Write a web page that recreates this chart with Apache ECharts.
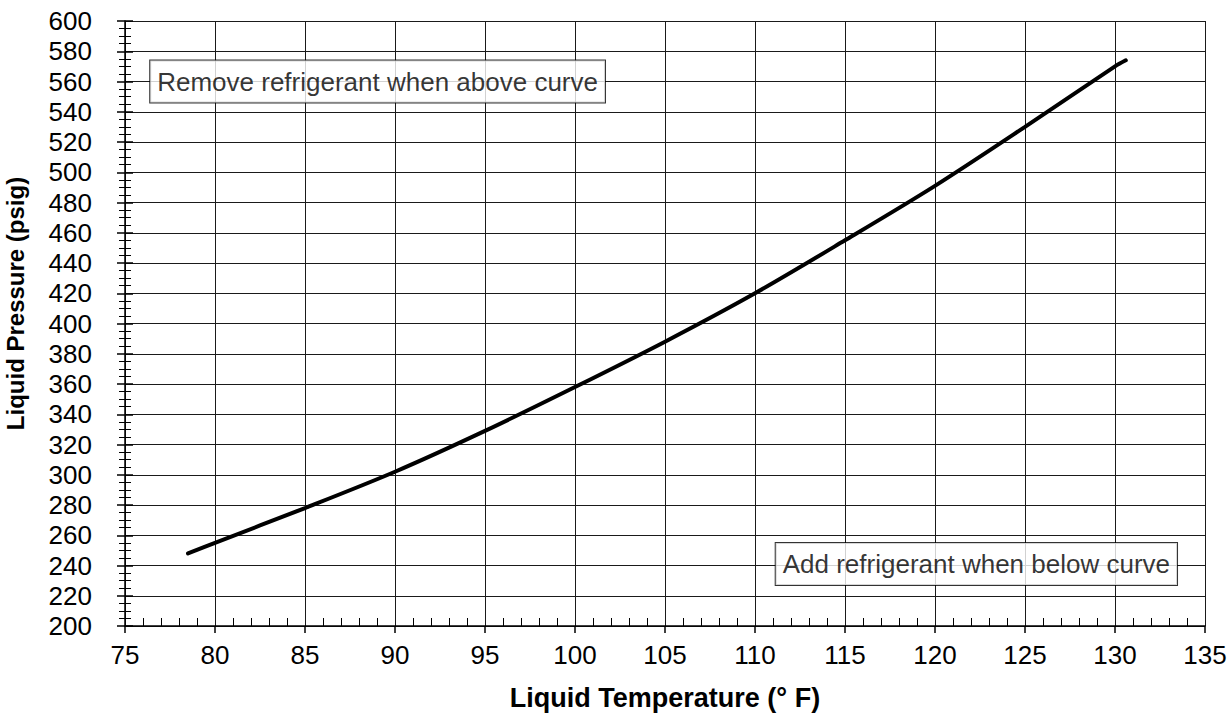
<!DOCTYPE html>
<html><head><meta charset="utf-8">
<script src="https://cdn.jsdelivr.net/npm/echarts@6/dist/echarts.min.js"></script>
<style>html,body{margin:0;padding:0;background:#fff}#c{width:1228px;height:724px}</style>
</head><body><div id="c"></div>
<script>
const temperatures = [78.5, 80, 85, 90, 95, 100, 105, 110, 115, 120, 125, 130, 130.6];
const pressures    = [248, 255, 278, 302, 329, 358, 388, 420, 455, 491, 530, 570, 574];
const xTickLabels  = [75, 80, 85, 90, 95, 100, 105, 110, 115, 120, 125, 130, 135];
const yTickLabels  = [200, 220, 240, 260, 280, 300, 320, 340, 360, 380, 400, 420, 440, 460, 480, 500, 520, 540, 560, 580, 600];
const noteTexts    = ['Remove refrigerant when above curve', 'Add refrigerant when below curve'];
const noteX        = [76.4, 111.15];
const noteY        = [560, 241];

const FONT = 'Liberation Sans, Arial, Helvetica, sans-serif';
const xMin = xTickLabels[0], xMax = xTickLabels[xTickLabels.length - 1], xStep = xTickLabels[1] - xTickLabels[0];
const yMin = yTickLabels[0], yMax = yTickLabels[yTickLabels.length - 1], yStep = yTickLabels[1] - yTickLabels[0];
const GRID = '#1a1a1a';

const chart = echarts.init(document.getElementById('c'), null, {renderer: 'svg'});
chart.setOption({
  animation: false,
  backgroundColor: '#fff',
  grid: {left: 125, right: 23, top: 21, bottom: 98, containLabel: false, outerBoundsMode: 'none'},
  xAxis: [{
    type: 'value', position: 'bottom', min: xMin, max: xMax, interval: xStep,
    name: 'Liquid Temperature (° F)', nameLocation: 'middle', nameGap: 58,
    nameTextStyle: {fontFamily: FONT, fontSize: 27, fontWeight: 'bold', color: '#000'},
    axisLine: {show: true, onZero: false, lineStyle: {color: '#000', width: 1.5}},
    axisTick: {show: true, inside: false, length: 7, lineStyle: {color: '#000', width: 1.5}},
    minorTick: {show: false},
    axisLabel: {fontFamily: FONT, fontSize: 26, color: '#000', margin: 16},
    splitLine: {show: true, lineStyle: {color: GRID, width: 1}}
  }, {
    type: 'value', position: 'bottom', min: xMin, max: xMax, interval: xStep,
    axisLine: {show: false, onZero: false},
    axisTick: {show: false, inside: true, length: 8},
    minorTick: {show: true, splitNumber: 5, length: 8, lineStyle: {color: '#000', width: 1}},
    axisLabel: {show: false},
    splitLine: {show: false}
  }],
  yAxis: [{
    type: 'value', position: 'left', min: yMin, max: yMax, interval: yStep,
    name: 'Liquid Pressure (psig)', nameLocation: 'middle', nameGap: 98, nameRotate: 90,
    nameTextStyle: {fontFamily: FONT, fontSize: 24, fontWeight: 'bold', color: '#000', padding: [0, 0, 0, 40]},
    axisLine: {show: true, onZero: false, lineStyle: {color: '#000', width: 1.5}},
    axisTick: {show: true, inside: false, length: 8, lineStyle: {color: '#000', width: 1.5}},
    minorTick: {show: true, splitNumber: 4, length: 6, lineStyle: {color: '#000', width: 1}},
    axisLabel: {fontFamily: FONT, fontSize: 26, color: '#000', margin: 33},
    splitLine: {show: true, lineStyle: {color: GRID, width: 1}}
  }, {
    type: 'value', position: 'left', min: yMin, max: yMax, interval: yStep,
    axisLine: {show: false, onZero: false},
    axisTick: {show: true, inside: true, length: 8, lineStyle: {color: '#000', width: 1.5}},
    minorTick: {show: true, splitNumber: 4, length: 6, lineStyle: {color: '#000', width: 1}},
    axisLabel: {show: false},
    splitLine: {show: false}
  }],
  series: [{
    type: 'line', xAxisIndex: 0, yAxisIndex: 0,
    data: temperatures.map((t, i) => [t, pressures[i]]),
    smooth: 0.3, showSymbol: false, symbol: 'none',
    lineStyle: {color: '#000', width: 4, cap: 'round'}
  }, {
    type: 'scatter', xAxisIndex: 1, yAxisIndex: 1,
    symbolSize: 0, silent: true, z: 10,
    data: noteTexts.map((t, i) => ({value: [noteX[i], noteY[i]], name: t})),
    label: {
      show: true, position: 'right', distance: 0,
      formatter: p => p.name,
      fontFamily: FONT, fontSize: 26, color: '#000', lineHeight: 30,
      backgroundColor: '#fff', borderColor: '#000', borderWidth: 1,
      padding: [6, 7, 6, 7]
    }
  }]
});
</script>
</body></html>
